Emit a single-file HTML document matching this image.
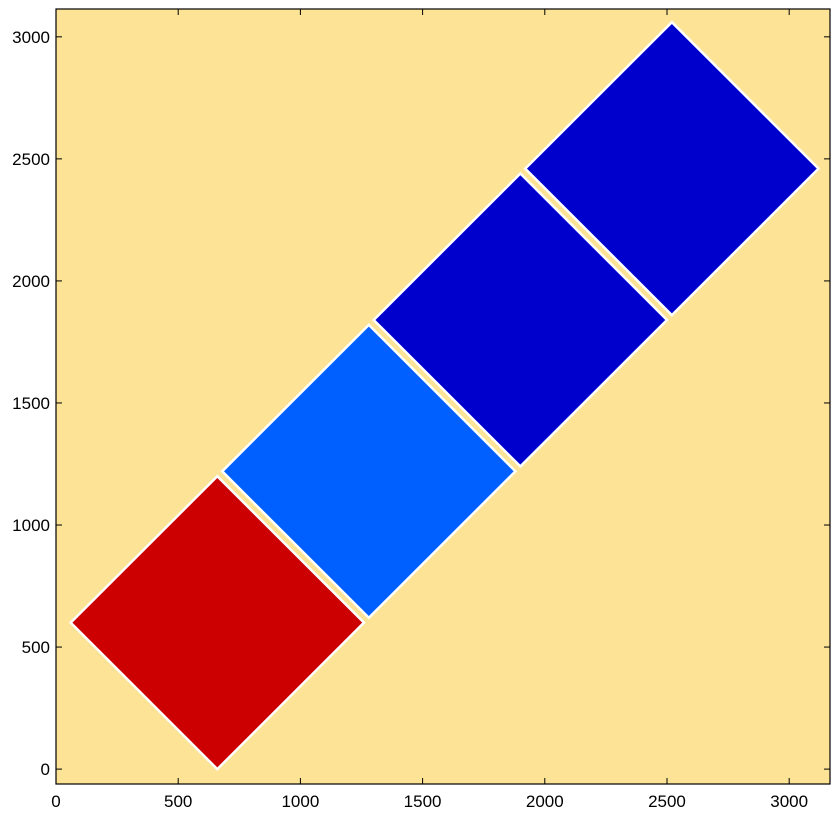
<!DOCTYPE html>
<html><head><meta charset="utf-8"><style>
body{margin:0;background:#fff;}
</style></head><body>
<svg id="chart" width="840" height="818" xmlns="http://www.w3.org/2000/svg"></svg>
<script>
const centersX = [660, 1280, 1900, 2520];
const centersY = [600, 1220, 1840, 2460];
const halfDiag = [600, 600, 600, 600];
const colors = ["#cc0000", "#0060ff", "#0000cc", "#0000cc"];
const xTicks = [0, 500, 1000, 1500, 2000, 2500, 3000];
const yTicks = [0, 500, 1000, 1500, 2000, 2500, 3000];
const xDomain = [0, 3167];
const yDomain = [-61, 3114];

const L = 56, R = 830, T = 9, B = 784;
const sx = v => L + (v - xDomain[0]) / (xDomain[1] - xDomain[0]) * (R - L);
const sy = v => B - (v - yDomain[0]) / (yDomain[1] - yDomain[0]) * (B - T);
const svg = document.getElementById('chart');
const NS = "http://www.w3.org/2000/svg";
function mk(tag, attrs) { const e = document.createElementNS(NS, tag); for (const k in attrs) e.setAttribute(k, attrs[k]); svg.appendChild(e); return e; }

const bg = mk('rect', {x: L, y: T, width: R - L, height: B - T, fill: '#fde396'});



for (let i = 0; i < centersX.length; i++) {
  const cx = centersX[i], cy = centersY[i], h = halfDiag[i];
  const pts = [[cx - h, cy], [cx, cy + h], [cx + h, cy], [cx, cy - h]].map(p => sx(p[0]) + ',' + sy(p[1])).join(' ');
  const p = mk('polygon', {points: pts, fill: colors[i], stroke: '#ffffff', 'stroke-width': 2.5, 'stroke-linejoin': 'miter'});
  
  
}

const frame = mk('rect', {x: L, y: T, width: R - L, height: B - T, fill: 'none', stroke: '#000', 'stroke-width': 1.2});



const font = {'font-family': 'Liberation Sans, sans-serif', 'font-size': '17', fill: '#000'};
xTicks.forEach(v => {
  const x = sx(v);
  mk('line', {x1: x, x2: x, y1: B, y2: B - 6, stroke: '#000'});
  mk('line', {x1: x, x2: x, y1: T, y2: T + 6, stroke: '#000'});
  const t = mk('text', Object.assign({x: x, y: B + 23, 'text-anchor': 'middle'}, font));
  t.textContent = v;
  
  
});
yTicks.forEach(v => {
  const y = sy(v);
  mk('line', {x1: L, x2: L + 6, y1: y, y2: y, stroke: '#000'});
  mk('line', {x1: R, x2: R - 6, y1: y, y2: y, stroke: '#000'});
  const t = mk('text', Object.assign({x: L - 6, y: y + 6, 'text-anchor': 'end'}, font));
  t.textContent = v;
  
  
});
</script>
</body></html>
